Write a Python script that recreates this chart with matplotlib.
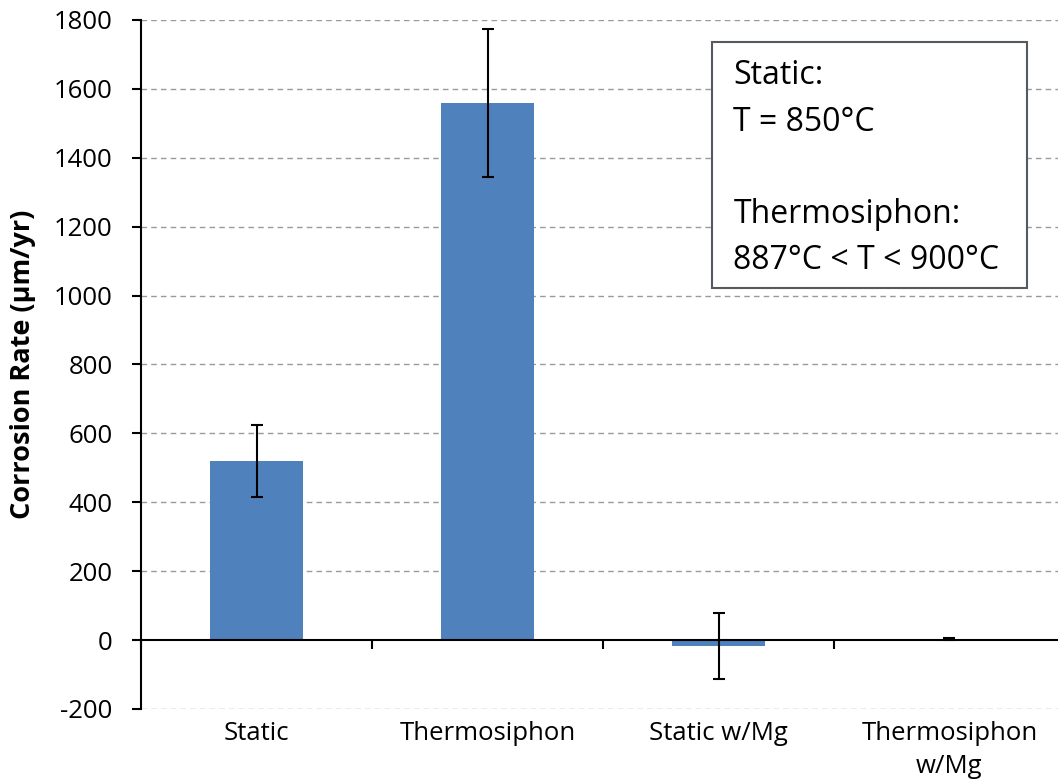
import matplotlib
matplotlib.use("Agg")
import matplotlib.pyplot as plt
import matplotlib.transforms as mtrans
from matplotlib.patches import Rectangle
import numpy as np

plt.rcParams['font.family'] = ['Open Sans', 'DejaVu Sans']

# data
categories = ["Static", "Thermosiphon", "Static w/Mg", "Thermosiphon\nw/Mg"]
rates = [520, 1559, -17, 2]
errors = [105, 216, 96, 3]
yticks = [-200, 0, 200, 400, 600, 800, 1000, 1200, 1400, 1600, 1800]
note = "Static:\nT = 850°C\n\nThermosiphon:\n887°C < T < 900°C"

fig = plt.figure(figsize=(10.58, 7.81), dpi=100)
ax = fig.add_axes([0.1333, 0.0922, 0.8733, 0.8822])

x = np.arange(len(categories))
ax.bar(x, rates, width=0.4, color="#4F81BD", zorder=3)
ax.errorbar(x, rates, yerr=errors, fmt="none", ecolor="black",
            elinewidth=1.5, capsize=4, capthick=1.5, zorder=4)

ax.set_xlim(-0.5, len(categories) - 0.5)
ax.set_ylim(-200, 1800)
ax.set_yticks(yticks)
ax.set_yticklabels([str(v) for v in yticks], fontsize=18.5)
ax.tick_params(axis="y", direction="out", length=6.5, width=1.5, pad=14)

# gridlines dashed, except zero
for v in yticks:
    if v != 0:
        ax.axhline(v, color="#9a9a9a", lw=1, ls=(0, (4, 3)), zorder=1)

# x axis sits on zero
for s in ["top", "right"]:
    ax.spines[s].set_visible(False)
ax.spines["left"].set_linewidth(1.5)
ax.spines["bottom"].set_position(("data", 0))
ax.spines["bottom"].set_linewidth(1.5)
ax.spines["bottom"].set_zorder(5)
ax.set_xticks(np.arange(len(categories) + 1) - 0.5)
ax.set_xticklabels([])
ax.tick_params(axis="x", direction="out", length=6.5, width=1.5)

trans = mtrans.blended_transform_factory(ax.transData, ax.transAxes)
for i, c in enumerate(categories):
    ax.text(i, -0.017, c, transform=trans, ha="center", va="top",
            fontsize=18.5, linespacing=1.46)

ax.set_ylabel("Corrosion Rate (μm/yr)", fontsize=19.5, fontweight="bold")
ax.yaxis.set_label_coords(-0.1136, 0.5)

# note box
ax.add_patch(Rectangle((0.618, 0.611), 0.341, 0.357, transform=ax.transAxes,
                       fc="white", ec="#555a60", lw=1.5, zorder=6))
ax.text(0.641, 0.943, note, transform=ax.transAxes, ha="left", va="top",
        fontsize=23, linespacing=1.53, zorder=7)

fig.savefig("out.png", dpi=100)
